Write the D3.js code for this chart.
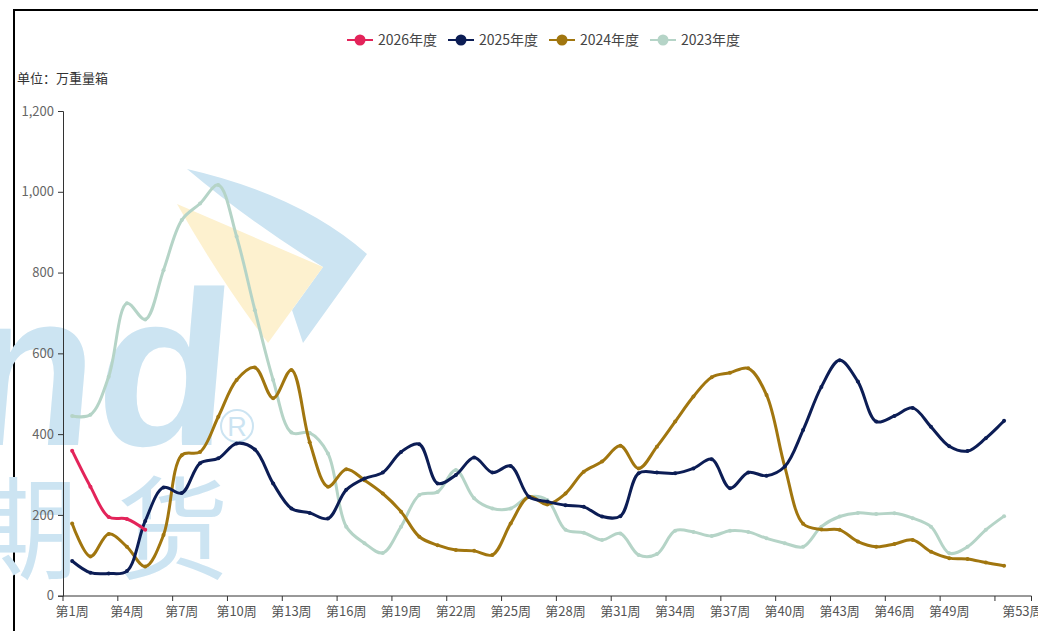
<!DOCTYPE html>
<html>
<head>
<meta charset="utf-8">
<script src="https://cdn.jsdelivr.net/npm/d3@7"></script>
<style>
  body { margin: 0; background: #fff; }
  svg { display: block; }
</style>
</head>
<body>
<div id="chart"></div>
<script>
// weekly values, 万重量箱
var weeks = d3.range(1, 54).map(function (i) { return "第" + i + "周"; });

var s2026 = [359, 270, 195, 190, 163];
var s2025 = [86, 57, 55, 61, 185, 268, 254, 328, 340, 377,
             362, 278, 216, 205, 191, 262, 290, 305, 356, 375,
             278, 299, 342, 305, 321, 245, 233, 224, 220, 196,
             197, 303, 305, 303, 315, 338, 266, 305, 297, 320,
             410, 517, 583, 530, 431, 445, 465, 418, 370, 358, 390, 433];
var s2024 = [179, 97, 153, 121, 72, 150, 348, 356, 443, 534,
             565, 489, 559, 380, 270, 313, 286, 253, 208, 146,
             125, 113, 111, 101, 179, 245, 226, 253, 307, 332,
             371, 315, 369, 431, 493, 541, 552, 563, 497, 319,
             178, 164, 163, 134, 121, 128, 138, 109, 93, 91, 82, 74];
var s2023 = [445, 448, 542, 724, 684, 806, 930, 971, 1017, 889,
             707, 534, 404, 403, 352, 171, 130, 106, 171, 249,
             257, 311, 241, 216, 216, 245, 237, 163, 156, 138,
             154, 101, 103, 161, 158, 148, 161, 158, 142, 130,
             121, 171, 196, 205, 202, 204, 192, 171, 105, 121, 163, 197];

var seriesNames = ["2026年度", "2025年度", "2024年度", "2023年度"];
var seriesData = [s2026, s2025, s2024, s2023];
var colors = ["#e3245a", "#0c1d55", "#a1760f", "#b5d4c7"];
var yTicks = [0, 200, 400, 600, 800, 1000, 1200];

var W = 1038, H = 631;
var font = "'Noto Sans CJK SC', 'Noto Sans', sans-serif";

var svg = d3.select("#chart").append("svg")
  .attr("width", W).attr("height", H);

// frame lines
svg.append("line").attr("x1", 13).attr("x2", W).attr("y1", 10).attr("y2", 10)
  .attr("stroke", "#000").attr("stroke-width", 2);
svg.append("line").attr("x1", 14).attr("x2", 14).attr("y1", 9).attr("y2", H)
  .attr("stroke", "#000").attr("stroke-width", 2);

// watermark (Wind logo, faint)
var wm = svg.append("g");
wm.append("g").attr("transform", "translate(226,445) skewX(-5)")
  .append("text").attr("x", 0).attr("y", 0)
  .attr("text-anchor", "end")
  .style("font-family", "'Liberation Sans', sans-serif")
  .style("font-size", "220px").style("font-weight", "bold")
  .attr("fill", "#cce4f2").text("nd");
wm.append("circle").attr("cx", 237).attr("cy", 426).attr("r", 16)
  .attr("fill", "none").attr("stroke", "#cce4f2").attr("stroke-width", 2);
wm.append("text").attr("x", 237).attr("y", 436)
  .attr("text-anchor", "middle")
  .style("font-family", "'Liberation Sans', sans-serif").style("font-size", "27px")
  .attr("fill", "#cce4f2").text("R");
wm.append("text").attr("x", 22).attr("y", 571)
  .attr("text-anchor", "middle")
  .style("font-family", font).style("font-size", "112px")
  .attr("fill", "#cce4f2").text("期");
wm.append("text").attr("x", 173).attr("y", 571)
  .attr("text-anchor", "middle")
  .style("font-family", font).style("font-size", "112px")
  .attr("fill", "#cce4f2").text("货");
wm.append("path")
  .attr("d", "M187,169 Q300,195 367,254 L303,343 L292,310 L323,267 Q250,222 187,169 Z")
  .attr("fill", "#cce4f2");
wm.append("path")
  .attr("d", "M177,204 L323,267 L268,343 Q220,280 177,204 Z")
  .attr("fill", "#fdf1cf");

// scales
var x = d3.scaleBand().domain(weeks).range([63, 1031.5]).padding(0);
var y = d3.scaleLinear().domain([0, 1200]).range([595.7, 111]);

// y axis
var yAxis = svg.append("g").attr("transform", "translate(63,0)")
  .call(d3.axisLeft(y).tickValues(yTicks).tickSize(5).tickPadding(4).tickFormat(d3.format(",")));
yAxis.select(".domain").attr("stroke", "#333");
yAxis.selectAll(".tick line").attr("stroke", "#333");
yAxis.selectAll(".tick text").attr("fill", "#666")
  .style("font-family", font).style("font-size", "13px");

// x axis: line, ticks at band edges, labels at band centres
var xg = svg.append("g");
xg.append("line").attr("x1", 63).attr("x2", 1031.5).attr("y1", 596).attr("y2", 596)
  .attr("stroke", "#333");
var tickIdx = d3.range(0, 52, 3);
xg.selectAll("line.tk").data(tickIdx.map(function (i) { return x(weeks[i]); }).concat([1031.5]))
  .enter().append("line").attr("class", "tk")
  .attr("x1", function (d) { return d; }).attr("x2", function (d) { return d; })
  .attr("y1", 596).attr("y2", 601).attr("stroke", "#333");
var labelIdx = d3.range(0, 49, 3).concat([52]);
xg.selectAll("text").data(labelIdx).enter().append("text")
  .attr("x", function (i) { return x(weeks[i]) + x.bandwidth() / 2; })
  .attr("y", 616)
  .attr("text-anchor", "middle")
  .attr("fill", "#555")
  .style("font-family", font).style("font-size", "13px")
  .text(function (i) { return weeks[i]; });

// unit label
svg.append("text").attr("x", 17).attr("y", 83)
  .attr("fill", "#333").style("font-family", font).style("font-size", "13px")
  .text("单位：万重量箱");

// lines
var line = d3.line()
  .x(function (d, i) { return x(weeks[i]) + x.bandwidth() / 2; })
  .y(function (d) { return y(d); })
  .curve(d3.curveCatmullRom.alpha(0.5));

// draw older years first so 2026 ends on top
[3, 2, 1, 0].forEach(function (k) {
  var g = svg.append("g");
  g.append("path").datum(seriesData[k])
    .attr("d", line)
    .attr("fill", "none")
    .attr("stroke", colors[k])
    .attr("stroke-width", 3)
    .attr("stroke-linejoin", "round");
  g.selectAll("circle").data(seriesData[k]).enter().append("circle")
    .attr("cx", function (d, i) { return x(weeks[i]) + x.bandwidth() / 2; })
    .attr("cy", function (d) { return y(d); })
    .attr("r", 2)
    .attr("fill", colors[k]);
});

// legend
var legendX = [347, 448, 549, 650];
var lg = svg.append("g");
seriesNames.forEach(function (name, k) {
  var lx = legendX[k];
  lg.append("line").attr("x1", lx).attr("x2", lx + 26).attr("y1", 40).attr("y2", 40)
    .attr("stroke", colors[k]).attr("stroke-width", 2);
  lg.append("circle").attr("cx", lx + 13).attr("cy", 40).attr("r", 5.5)
    .attr("fill", colors[k]);
  lg.append("text").attr("x", lx + 31).attr("y", 45)
    .attr("fill", "#444")
    .style("font-family", font).style("font-size", "14px")
    .text(name);
});
</script>
</body>
</html>
